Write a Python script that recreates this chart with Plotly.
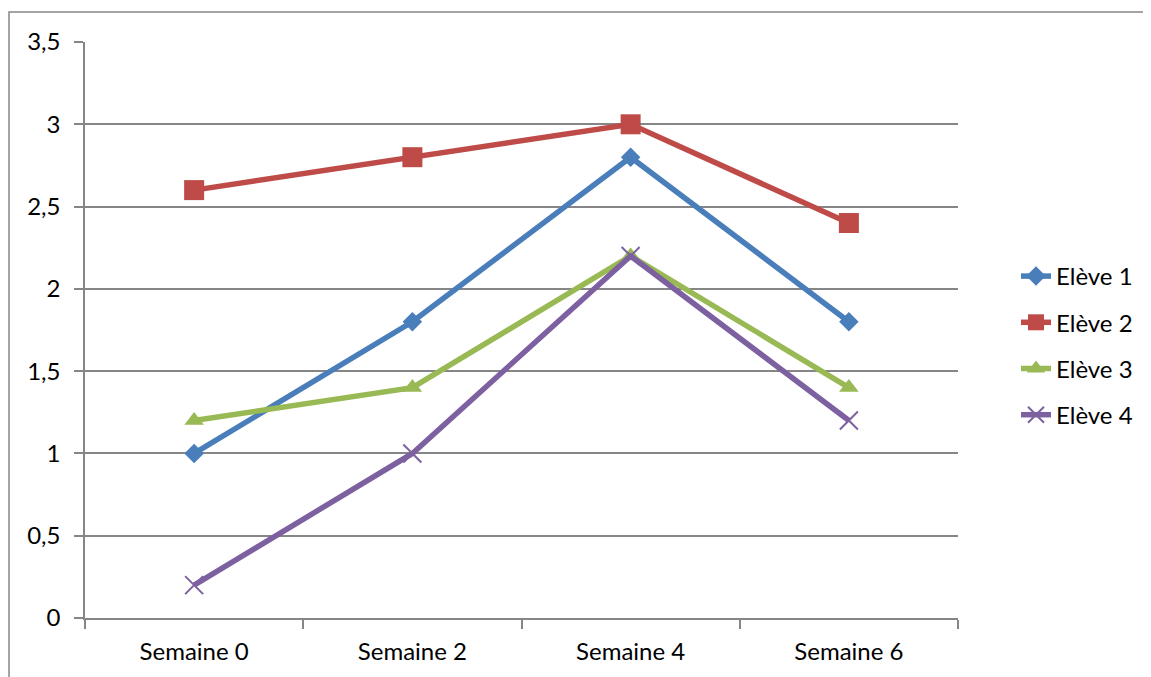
import plotly.graph_objects as go

categories = ["Semaine 0", "Semaine 2", "Semaine 4", "Semaine 6"]
eleve1 = [1.0, 1.8, 2.8, 1.8]
eleve2 = [2.6, 2.8, 3.0, 2.4]
eleve3 = [1.2, 1.4, 2.2, 1.4]
eleve4 = [0.2, 1.0, 2.2, 1.2]
names = ["Elève 1", "Elève 2", "Elève 3", "Elève 4"]
y_ticks = [0, 0.5, 1, 1.5, 2, 2.5, 3, 3.5]

W, H = 1151, 677
OFF = 8  # page body margin
series = [eleve1, eleve2, eleve3, eleve4]
colors = ["#4A7EBB", "#BE4B48", "#98B954", "#7D60A0"]
symbols = ["diamond", "square", "triangle-up", "x-thin"]
sizes = [15, 20, 17, 18]


def px_x(p):
    return (p - OFF) / W


def px_y(p):
    return (H - (p - OFF)) / H


fig = go.Figure()
for i, (vals, name) in enumerate(zip(series, names)):
    fig.add_trace(go.Scatter(
        x=categories, y=vals, name=name, mode="lines+markers",
        line=dict(color=colors[i], width=5.5),
        marker=dict(symbol=symbols[i], size=sizes[i], color=colors[i],
                    line=dict(color=colors[i], width=2 if i == 3 else 0)),
        legendgroup=name,
    ))

grey = "#868686"
fig.update_layout(
    width=W, height=H,
    margin=dict(l=0, r=0, t=0, b=0, autoexpand=False),
    paper_bgcolor="white", plot_bgcolor="white",
    separators=", ",
    font=dict(family="Lato", size=24, color="black"),
    showlegend=True,
    legend=dict(x=px_x(1016), y=px_y(254), xanchor="left", yanchor="top",
                tracegroupgap=12, font=dict(size=24), itemwidth=30,
                bgcolor="rgba(0,0,0,0)"),
    xaxis=dict(domain=[px_x(85), px_x(958)], type="category", range=[-0.5, 3.5],
               showline=True, linecolor=grey, linewidth=1.5,
               ticks="outside", ticklen=9, tickcolor=grey, tickwidth=1.5,
               tickson="boundaries", showgrid=False, zeroline=False,
               automargin=False, ticklabelstandoff=11),
    yaxis=dict(domain=[px_y(618), px_y(42)], range=[0, 3.5],
               tickvals=y_ticks, showline=True, linecolor=grey, linewidth=1.5,
               ticks="outside", ticklen=9, tickcolor=grey, tickwidth=1.5,
               showgrid=True, gridcolor=grey, gridwidth=1.5, zeroline=False,
               automargin=False, ticklabelstandoff=9),
    shapes=[dict(type="rect", xref="paper", yref="paper",
                 x0=px_x(9), y0=px_y(12), x1=1.05, y1=-0.05,
                 line=dict(color=grey, width=1.5), layer="below")],
)

fig.write_html("out.html")
